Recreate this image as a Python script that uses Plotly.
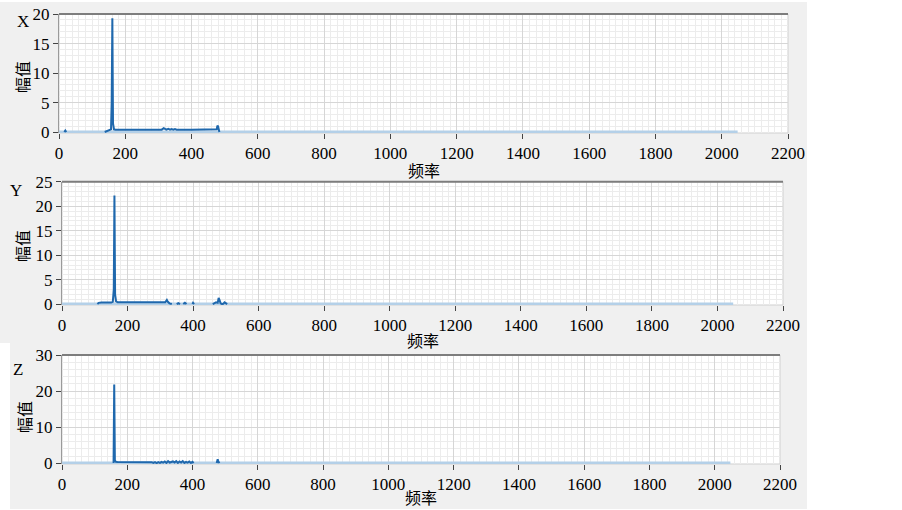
import plotly.graph_objects as go

W, H = 902, 510

# ---------------- data ----------------
base_freq = [0, 2048]
base_amp = [0.05, 0.05]

x_freq = [16, 19, 22, None,
          138, 145, 152, 157, 159, 161, 163, 166, 170, 250, 310, 316, 320, 324, 330,
          335, 340, 345, 350, 355, 400, 470, 476, 478, 480, 482, 484]
x_amp = [0.05, 0.3, 0.05, None,
         0.05, 0.2, 0.35, 0.5, 5, 19.3, 1.5, 0.5, 0.45, 0.45, 0.45, 0.7, 0.5, 0.45, 0.6,
         0.45, 0.55, 0.45, 0.55, 0.45, 0.45, 0.45, 0.5, 1.1, 1.0, 0.5, 0.05]

y_freq = [108, 112, 120, 130, 140, 150, 155, 158, 160, 162, 165, 170, 200, 300, 315, 320,
          323, 328, 335, None,
          350, 355, 360, None, 370, 375, 380, None, 398, 400, 403, None,
          460, 465, 470, 475, 478, 481, 484, 488, 492, 496, 500, 504]
y_amp = [0.05, 0.3, 0.35, 0.3, 0.4, 0.35, 0.5, 3, 22.2, 2, 0.6, 0.4, 0.4, 0.4, 0.4, 0.9,
         0.5, 0.2, 0.05, None,
         0.05, 0.25, 0.05, None, 0.05, 0.3, 0.05, None, 0.05, 0.3, 0.05, None,
         0.05, 0.15, 0.4, 0.3, 1.3, 0.8, 0.2, 0.05, 0.1, 0.4, 0.3, 0.05]

z_freq = [158, 160, 162, 165, 170, 200, 250, 275, 280, 285, 290, 295, 300, 305, 310, 315,
          320, 325, 330, 335, 340, 345, 350, 355, 360, 365, 370, 375, 380, 385, 390, 395,
          400, 403, None, 474, 477, 479, 482]
z_amp = [0.05, 21.8, 0.8, 0.4, 0.35, 0.35, 0.35, 0.3, 0.1, 0.3, 0.05, 0.3, 0.1, 0.4, 0.2,
         0.5, 0.1, 0.6, 0.2, 0.4, 0.5, 0.2, 0.6, 0.1, 0.5, 0.2, 0.6, 0.1, 0.4, 0.2, 0.5,
         0.1, 0.4, 0.05, None, 0.05, 1.1, 0.6, 0.05]

freq_ticks = [0, 200, 400, 600, 800, 1000, 1200, 1400, 1600, 1800, 2000, 2200]
channel_names = ["X", "Y", "Z"]
x_title = "频率"
y_title = "幅值"

series = [(x_freq, x_amp), (y_freq, y_amp), (z_freq, z_amp)]

# ---------------- layout geometry (pixels) ----------------
panels = [
    dict(x0=59, x1=788, ytop=14, ybot=133, yrange=[-0.12, 20], dtick=5, minor=1,
         gray=(0, 807, 2, 177), name_xy=(23, 22), ytitle_xy=(22, 77), xtitle_y=170),
    dict(x0=62, x1=783, ytop=181.7, ybot=305, yrange=[-0.14, 25], dtick=5, minor=1,
         gray=(0, 807, 177, 343), name_xy=(16, 190), ytitle_xy=(22, 246), xtitle_y=340),
    dict(x0=62, x1=780, ytop=355, ybot=464, yrange=[-0.2, 30], dtick=10, minor=2,
         gray=(10, 807, 343, 509), name_xy=(18, 369), ytitle_xy=(24, 417), xtitle_y=497),
]

def px(x):
    return x / W

def py(y):
    return 1 - y / H

DARK = "#1f68ad"
LIGHT = "#b4d0e8"
SERIF = "Liberation Serif, Times New Roman, serif"
CJK = "Noto Sans CJK SC, sans-serif"

fig = go.Figure()
shapes = []
annotations = []
layout = dict(width=W, height=H, autosize=False, margin=dict(l=0, r=0, t=0, b=0, pad=0),
              paper_bgcolor="white", plot_bgcolor="rgba(0,0,0,0)", showlegend=False)

for i, (p, (fx, fy)) in enumerate(zip(panels, series)):
    n = "" if i == 0 else str(i + 1)
    xa, ya = "x" + n, "y" + n
    fig.add_trace(go.Scatter(x=base_freq, y=base_amp, xaxis=xa, yaxis=ya, mode="lines",
                             line=dict(color=LIGHT, width=3), hoverinfo="skip"))
    fig.add_trace(go.Scatter(x=fx, y=fy, xaxis=xa, yaxis=ya, mode="lines",
                             line=dict(color=DARK, width=2), connectgaps=False))

    layout["xaxis" + n] = dict(
        domain=[px(p["x0"]), px(p["x1"])], anchor=ya, range=[0, 2200], automargin=False,
        tickmode="array", tickvals=freq_ticks, ticktext=[str(t) for t in freq_ticks],
        ticks="outside", ticklen=5, tickcolor="#444", tickwidth=1,
        showgrid=True, gridcolor="#d6d6d6", gridwidth=1,
        minor=dict(tick0=0, dtick=20, showgrid=True, gridcolor="#ececec", gridwidth=1),
        zeroline=False, showline=False,
        tickfont=dict(family=SERIF, size=17, color="black"), fixedrange=True)
    layout["yaxis" + n] = dict(
        domain=[py(p["ybot"]), py(p["ytop"])], anchor=xa, range=p["yrange"], automargin=False,
        tick0=0, dtick=p["dtick"], ticks="outside", ticklen=5, tickcolor="#444",
        showgrid=True, gridcolor="#d6d6d6", gridwidth=1,
        minor=dict(tick0=0, dtick=p["minor"], showgrid=True, gridcolor="#ececec", gridwidth=1),
        zeroline=False, showline=True, linecolor="#9a9a9a", linewidth=1,
        tickfont=dict(family=SERIF, size=17, color="black"), fixedrange=True)

    gx0, gx1, gy0, gy1 = p["gray"]
    shapes.append(dict(type="rect", xref="paper", yref="paper", layer="below",
                       x0=px(gx0), x1=px(gx1), y0=py(gy1), y1=py(gy0),
                       fillcolor="#f0f0f0", line=dict(width=0)))
    shapes.append(dict(type="rect", xref="paper", yref="paper", layer="below",
                       x0=px(p["x0"]), x1=px(p["x1"]), y0=py(p["ybot"]), y1=py(p["ytop"]),
                       fillcolor="white", line=dict(color="#cfcfcf", width=1)))
    shapes.append(dict(type="line", xref="paper", yref="paper", layer="above",
                       x0=px(p["x0"]), x1=px(p["x1"]), y0=py(p["ytop"]), y1=py(p["ytop"]),
                       line=dict(color="#7d7d7d", width=2)))

    annotations.append(dict(text=channel_names[i], xref="paper", yref="paper",
                            x=px(p["name_xy"][0]), y=py(p["name_xy"][1]),
                            xanchor="center", yanchor="middle", showarrow=False,
                            font=dict(family=SERIF, size=17, color="black")))
    annotations.append(dict(text=y_title, xref="paper", yref="paper", textangle=-90,
                            x=px(p["ytitle_xy"][0]), y=py(p["ytitle_xy"][1]),
                            xanchor="center", yanchor="middle", showarrow=False,
                            font=dict(family=CJK, size=16, color="black")))
    annotations.append(dict(text=x_title, xref="paper", yref="paper",
                            x=px((p["x0"] + p["x1"]) / 2), y=py(p["xtitle_y"]),
                            xanchor="center", yanchor="middle", showarrow=False,
                            font=dict(family=CJK, size=16, color="black")))

layout["shapes"] = shapes
layout["annotations"] = annotations
fig.update_layout(**layout)

post = ("document.documentElement.style.margin='0';document.documentElement.style.overflow='hidden';"
        "document.body.style.margin='0';document.body.style.padding='0';")
fig.write_html("out.html", config={"displayModeBar": False}, post_script=post)
